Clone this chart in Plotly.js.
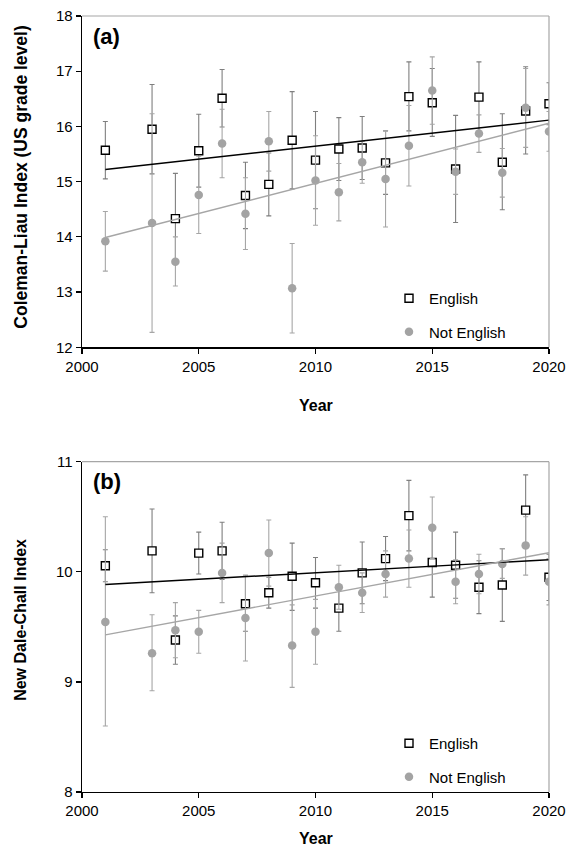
<!DOCTYPE html>
<html><head><meta charset="utf-8">
<script src="https://cdn.plot.ly/plotly-3.0.1.min.js"></script>
<style>html,body{margin:0;padding:0;background:#fff}#chart{width:569px;height:851px}</style>
</head><body><div id="chart"></div>
<script>
const years = [2001,2003,2004,2005,2006,2007,2008,2009,2010,2011,2012,2013,2014,2015,2016,2017,2018,2019,2020];

// Panel (a): Coleman-Liau Index
const clEnglish   = [15.57,15.95,14.33,15.56,16.51,14.75,14.95,15.75,15.39,15.59,15.61,15.34,16.54,16.43,15.23,16.53,15.35,16.28,16.41];
const clEnglishHi = [16.09,16.76,15.15,16.22,17.03,15.35,15.52,16.63,16.27,16.16,16.18,15.92,17.17,17.05,16.20,17.17,16.23,17.08,16.79];
const clEnglishLo = [15.05,15.14,13.51,14.90,15.99,14.15,14.38,14.87,14.51,15.02,15.04,14.77,15.92,15.82,14.26,15.89,14.49,15.50,16.03];
const clOther     = [13.92,14.25,13.55,14.76,15.69,14.42,15.73,13.07,15.02,14.81,15.35,15.05,15.65,16.65,15.18,15.87,15.16,16.34,15.91];
const clOtherHi   = [14.46,16.23,14.00,15.46,16.31,15.07,16.27,13.88,15.83,15.33,15.73,15.92,16.38,17.26,15.59,16.21,15.60,17.05,16.27];
const clOtherLo   = [13.38,12.27,13.11,14.06,15.07,13.77,15.19,12.26,14.21,14.29,14.97,14.18,14.92,16.04,14.77,15.53,14.72,15.62,15.55];

// Panel (b): New Dale-Chall Index
const dcEnglish   = [10.055,10.19,9.38,10.17,10.19,9.71,9.81,9.96,9.90,9.67,9.99,10.12,10.51,10.085,10.06,9.86,9.88,10.56,9.95];
const dcEnglishHi = [10.20,10.57,9.60,10.36,10.45,9.96,9.95,10.26,10.13,9.88,10.27,10.32,10.83,10.40,10.36,10.10,10.21,10.88,10.16];
const dcEnglishLo = [9.91,9.81,9.16,9.98,9.93,9.46,9.67,9.65,9.67,9.46,9.71,9.92,10.19,9.77,9.76,9.62,9.55,10.24,9.74];
const dcOther     = [9.545,9.26,9.47,9.455,9.99,9.58,10.17,9.33,9.455,9.86,9.81,9.98,10.12,10.40,9.91,9.98,10.07,10.24,9.91];
const dcOtherHi   = [10.50,9.61,9.72,9.65,10.26,9.97,10.47,9.70,9.75,10.06,9.99,10.19,10.38,10.68,10.11,10.16,10.21,10.50,10.12];
const dcOtherLo   = [8.60,8.92,9.22,9.26,9.72,9.19,9.87,8.95,9.16,9.66,9.63,9.77,9.86,10.12,9.71,9.80,9.94,9.97,9.70];

const seriesNames = ['English','Not English'];
const yTitles = ['Coleman-Liau Index (US grade level)','New Dale-Chall Index'];
const panelLabels = ['(a)','(b)'];
const xTitle = 'Year';

const FONT = 'Liberation Sans, Arial, Helvetica, sans-serif';

function linfit(x, y){
  const n = x.length;
  const mx = x.reduce((a,b)=>a+b,0)/n, my = y.reduce((a,b)=>a+b,0)/n;
  let sxy=0, sxx=0;
  for(let i=0;i<n;i++){ sxy += (x[i]-mx)*(y[i]-my); sxx += (x[i]-mx)*(x[i]-mx); }
  const b = sxy/sxx, a = my - b*mx;
  const xs = [x[0], x[n-1]];
  return {x: xs, y: xs.map(v=>a+b*v)};
}
const plus = (hi,v)=>hi.map((h,i)=>h-v[i]);
const minus = (lo,v)=>lo.map((l,i)=>v[i]-l);

function panel(xa, ya, leg, en, enHi, enLo, ot, otHi, otLo){
  const tE = linfit(years, en), tO = linfit(years, ot);
  return [
    {type:'scatter', mode:'markers', name:seriesNames[0], x:years, y:en, xaxis:xa, yaxis:ya, legend:leg, legendgroup:leg+'e',
     marker:{symbol:'square', size:8, color:'#ffffff', line:{color:'#000000', width:1.4}},
     error_y:{type:'data', symmetric:false, array:plus(enHi,en), arrayminus:minus(enLo,en), color:'#7f7f7f', thickness:1.1, width:2.5}},
    {type:'scatter', mode:'markers', name:seriesNames[1], x:years, y:ot, xaxis:xa, yaxis:ya, legend:leg, legendgroup:leg+'o',
     marker:{symbol:'circle', size:8.5, color:'#a3a3a3'},
     error_y:{type:'data', symmetric:false, array:plus(otHi,ot), arrayminus:minus(otLo,ot), color:'#a6a6a6', thickness:1.1, width:2.5}},
    {type:'scatter', mode:'lines', x:tE.x, y:tE.y, xaxis:xa, yaxis:ya, showlegend:false, hoverinfo:'skip',
     line:{color:'#000000', width:1.4}},
    {type:'scatter', mode:'lines', x:tO.x, y:tO.y, xaxis:xa, yaxis:ya, showlegend:false, hoverinfo:'skip',
     line:{color:'#a6a6a6', width:1.4}}
  ];
}

const data = [].concat(
  panel('x','y','legend', clEnglish, clEnglishHi, clEnglishLo, clOther, clOtherHi, clOtherLo),
  panel('x2','y2','legend2', dcEnglish, dcEnglishHi, dcEnglishLo, dcOther, dcOtherHi, dcOtherLo)
);

const W=569, H=851, L=82, R=20, T=16, B=59;
const plotH = H-T-B;
const domA = [(792-347.3)/plotH, 1];
const domB = [0, (792-461.7)/plotH];

function xaxisDef(anchor){
  return {anchor:anchor, domain:[0,1], range:[2000,2020], tickmode:'linear', tick0:2000, dtick:5,
    showgrid:false, zeroline:false, showline:true, linecolor:'#000', linewidth:1.3,
    ticks:'outside', ticklen:5, tickwidth:1.2, tickcolor:'#000',
    tickfont:{family:FONT, size:15, color:'#000'}, fixedrange:true};
}
function yaxisDef(anchor, dom, range){
  return {anchor:anchor, domain:dom, range:range, tickmode:'linear', dtick:1,
    showgrid:false, zeroline:false, showline:true, linecolor:'#000', linewidth:1.3,
    ticks:'outside', ticklen:5, tickwidth:1.2, tickcolor:'#000',
    tickfont:{family:FONT, size:15, color:'#000'}, fixedrange:true};
}

const ann = [];
const doms = [domA, domB];
const yTitleSize = [17.5, 16];
const yTitleShift = [4, 7];
doms.forEach((d,i)=>{
  const ya = i===0 ? 'y domain' : 'y2 domain';
  const xa = i===0 ? 'x domain' : 'x2 domain';
  ann.push({xref:'paper', yref:'paper', x:0, y:(d[0]+d[1])/2, xshift:-(L-21), yshift:yTitleShift[i], xanchor:'center', yanchor:'middle',
    text:'<b>'+yTitles[i]+'</b>', textangle:-90, showarrow:false, font:{family:FONT, size:yTitleSize[i], color:'#000'}});
  ann.push({xref:xa, yref:ya, x:0, y:1, xshift:9, yshift:(i===0?-6:-5), xanchor:'left', yanchor:'top',
    text:'<b>'+panelLabels[i]+'</b>', showarrow:false, font:{family:FONT, size:22, color:'#000'}});
  ann.push({xref:'paper', yref:'paper', x:0.5, y:d[0], yshift:-(i===0?58:46), xanchor:'center', yanchor:'middle',
    text:'<b>'+xTitle+'</b>', showarrow:false, font:{family:FONT, size:16, color:'#000'}});
});

const frameShapes = [];
[['x domain','y domain'],['x2 domain','y2 domain']].forEach(([xr,yr])=>{
  frameShapes.push({type:'line', xref:xr, yref:yr, x0:0, x1:1, y0:1, y1:1, line:{color:'#a6a6a6', width:1.2}});
  frameShapes.push({type:'line', xref:xr, yref:yr, x0:1, x1:1, y0:0, y1:1, line:{color:'#a6a6a6', width:1.2}});
});

const legendBase = {xanchor:'left', yanchor:'top', bgcolor:'rgba(0,0,0,0)', borderwidth:0,
  font:{family:FONT, size:15, color:'#000'}, traceorder:'grouped', tracegroupgap:11, itemwidth:30};

const layout = {
  width:W, height:H, margin:{l:L, r:R, t:T, b:B}, paper_bgcolor:'#fff', plot_bgcolor:'#fff',
  showlegend:true,
  xaxis: xaxisDef('y'), yaxis: yaxisDef('x', domA, [12,18]),
  xaxis2: xaxisDef('y2'), yaxis2: yaxisDef('x2', domB, [8,11]),
  legend: Object.assign({x:(389-L)/467, y:(792-282)/plotH}, legendBase),
  legend2: Object.assign({x:(389-L)/467, y:(792-727)/plotH}, legendBase),
  annotations: ann, shapes: frameShapes
};

Plotly.newPlot('chart', data, layout, {displayModeBar:false, staticPlot:true});
</script></body></html>
